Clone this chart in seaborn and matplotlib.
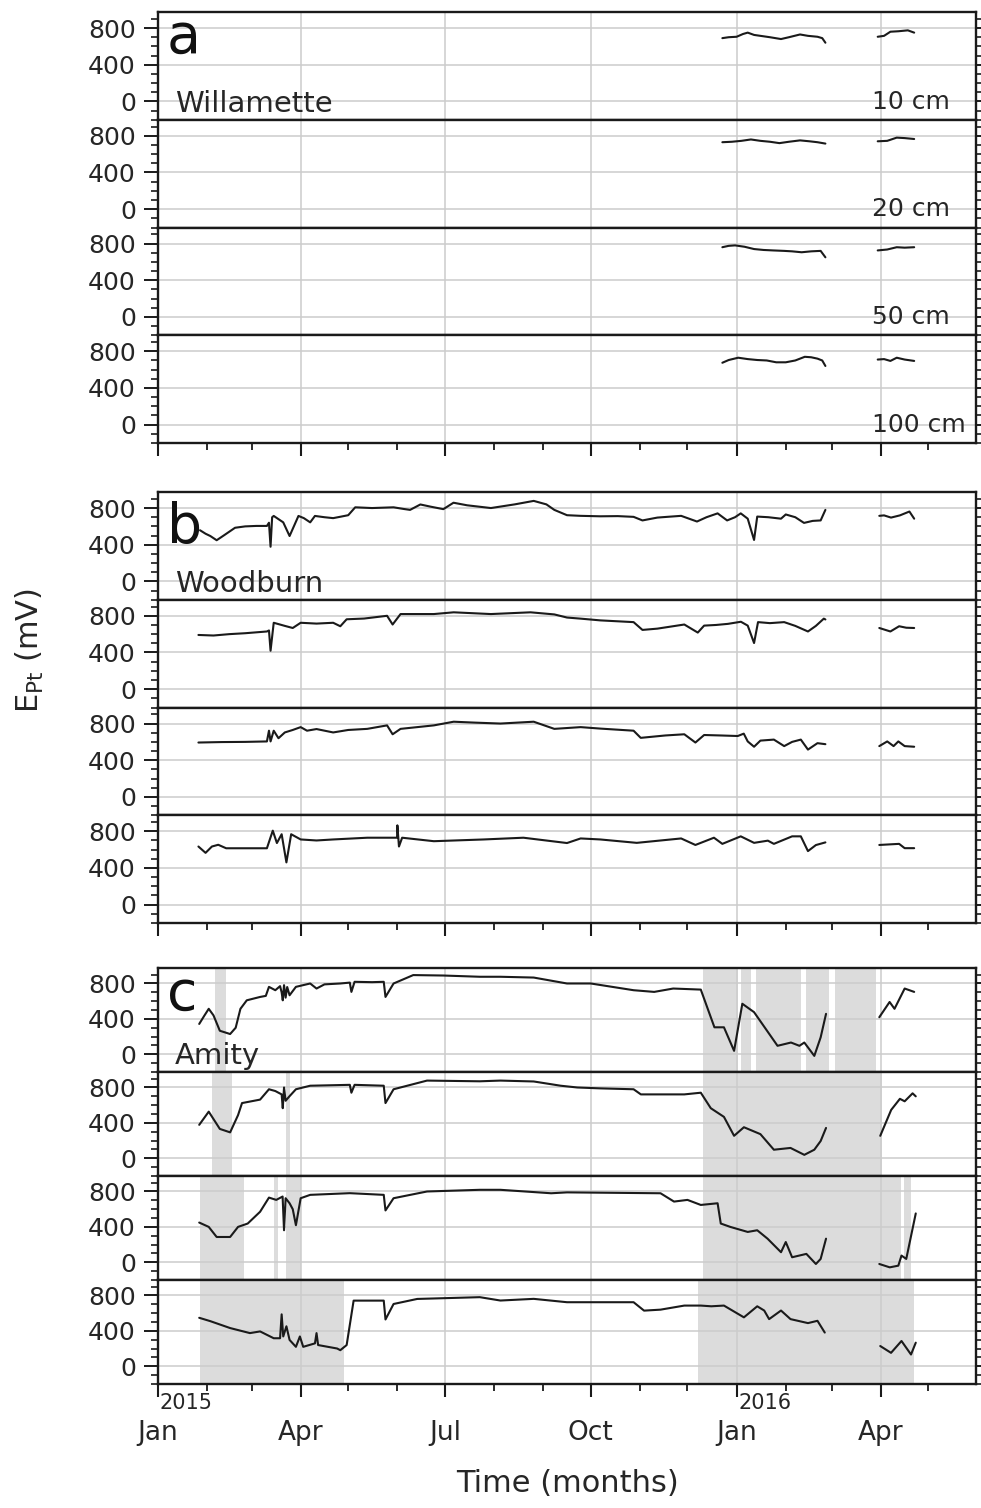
import numpy as np
import pandas as pd
import matplotlib
matplotlib.use("Agg")
import matplotlib.pyplot as plt
import matplotlib.dates as mdates
import matplotlib.ticker as mticker
from matplotlib.transforms import blended_transform_factory
import seaborn as sns

sns.set_style("white")
plt.rcParams["font.family"] = ["DejaVu Sans"]
plt.rcParams["mathtext.default"] = "regular"

# ---------------- data: (days since 2015-01-01, E_Pt in mV) ----------------
START = "2015-01-01"
DATA_GAP_START = 430  # logger gap between early March and early April 2016

will_10 = [(356, 690), (360, 700), (365, 705), (369, 735), (372, 750), (376, 725), (380, 715), (386, 700),
           (393, 680), (398, 700), (405, 730), (410, 715), (416, 705), (419, 690), (421, 640),
           (454, 705), (458, 715), (462, 760), (467, 765), (473, 775), (477, 750)]
will_20 = [(356, 730), (362, 735), (368, 745), (374, 760), (380, 745), (386, 735), (392, 720), (398, 735),
           (405, 750), (411, 740), (416, 730), (421, 715),
           (454, 740), (460, 745), (466, 780), (471, 775), (477, 765)]
will_50 = [(356, 760), (360, 775), (364, 780), (370, 765), (376, 740), (382, 730), (388, 725), (395, 720),
           (400, 715), (406, 705), (412, 715), (418, 720), (421, 650),
           (454, 725), (460, 735), (466, 760), (471, 755), (477, 760)]
will_100 = [(356, 675), (360, 705), (366, 730), (372, 715), (378, 705), (384, 700), (390, 680), (396, 680),
            (402, 700), (408, 740), (412, 735), (416, 720), (419, 700), (421, 640),
            (454, 710), (458, 715), (462, 695), (466, 730), (471, 710), (477, 695)]

wood_10 = [(26.5, 558), (30, 520), (33, 495), (37, 449), (42, 507), (48.6, 585), (55, 600), (62, 605),
           (68.7, 605), (70, 640), (71, 378), (72, 700), (73, 714), (79, 644), (83, 495), (88.6, 714),
           (92, 690), (96, 644), (99, 714), (105, 700), (110.5, 690), (115, 705), (120, 722), (124.4, 808),
           (135, 800), (148.6, 808), (155, 790), (159, 780), (165.5, 839), (172, 815), (180, 788),
           (186.4, 858), (195, 830), (210, 800), (225, 840), (237, 878), (245, 840), (250, 780),
           (258, 722), (266.6, 715), (279, 710), (290, 712), (300, 704), (305.6, 665), (315, 696),
           (322, 705), (330, 715), (340, 653), (346, 700), (353, 742), (359, 665), (364, 700),
           (367.6, 742), (372, 684), (376, 452), (378, 707), (385, 700), (393, 684), (396, 730),
           (402, 700), (407.5, 638), (413, 660), (418, 665), (421, 780),
           (455, 715), (458, 720), (462.4, 696), (468, 720), (474, 762), (477, 684)]
wood_20 = [(25.5, 591), (35, 585), (45, 600), (55, 610), (68.7, 629), (70, 640), (71, 419), (73, 724),
           (80, 690), (85, 667), (90, 724), (100, 715), (110.5, 724), (115, 686), (119, 762), (130, 770),
           (144.5, 800), (148, 705), (153, 819), (174, 819), (186.5, 838), (210, 819), (235, 838),
           (250, 815), (258, 781), (266.6, 769), (279, 750), (300, 731), (305.6, 646), (315, 660),
           (332, 705), (340.5, 617), (344.5, 693), (352, 700), (359.5, 712), (367.7, 735), (372, 693),
           (376, 503), (378.5, 731), (386, 720), (395, 731), (402, 690), (410, 629), (415, 690),
           (420, 769), (421, 760),
           (455, 667), (462, 629), (467.5, 686), (472, 670), (477, 667)]
wood_50 = [(25.5, 593), (40, 598), (55, 600), (68.7, 605), (70, 722), (71, 605), (73, 722), (76, 640),
           (80, 703), (85, 730), (90, 761), (94, 722), (100, 740), (110.5, 703), (120, 730), (132, 742),
           (144.5, 780), (148, 683), (153, 742), (174, 780), (186.5, 820), (200, 810), (216, 800),
           (237, 820), (250, 742), (266.6, 761), (279, 745), (300, 722), (304.5, 644), (320, 670),
           (332, 683), (339, 593), (344.5, 675), (355, 670), (365.7, 664), (369.5, 690), (372, 605),
           (376, 547), (380, 614), (388.5, 625), (395, 554), (400, 600), (405.5, 625), (410, 516),
           (416, 586), (421, 575),
           (455, 554), (460, 605), (464, 554), (467, 605), (471, 554), (477, 547)]
wood_100 = [(25.5, 634), (30, 565), (34, 634), (38, 653), (43, 615), (55, 615), (68.7, 615), (72.4, 807),
            (75, 672), (78, 768), (81, 461), (84, 768), (90, 711), (100, 700), (110.5, 711), (132, 730),
            (150.8, 730), (151, 865), (152, 634), (154, 730), (174, 692), (205.5, 711), (230.5, 730),
            (258, 672), (266.6, 722), (279, 711), (302, 674), (330, 722), (339, 651), (350.7, 730),
            (356, 663), (367.6, 745), (376, 674), (384.7, 698), (388.5, 663), (400, 745), (405.5, 745),
            (410, 584), (415, 650), (421, 679),
            (455, 651), (467.5, 663), (471, 616), (477, 616)]

amity_10 = [(26, 343), (29, 430), (32, 514), (35, 440), (39, 266), (45.5, 229), (49, 300), (52, 514),
            (56, 610), (64.4, 648), (68, 660), (70, 762), (74, 724), (77, 770), (78, 700), (78.7, 610),
            (79.5, 781), (80.5, 640), (81.5, 760), (83, 667), (87, 762), (96, 800), (100, 743), (105, 790),
            (115, 800), (121, 810), (122, 705), (124, 819), (135, 815), (142.4, 819), (143.5, 648),
            (148.6, 800), (161, 895), (180, 890), (203, 876), (216, 876), (237, 867), (258, 800),
            (273, 800), (300, 724), (313, 705), (325, 743), (342.4, 731), (351, 305), (357, 305),
            (363.4, 39), (368.6, 571), (376, 476), (383.4, 286), (390.8, 96), (399.3, 133), (404.6, 96),
            (407.7, 133), (414, -18), (418, 191), (421.4, 457),
            (455, 419), (461.5, 591), (464.6, 514), (471, 743), (477, 705)]
amity_20 = [(26, 378), (32, 527), (39, 332), (45.5, 293), (50.5, 488), (53, 624), (64.4, 663), (70, 780),
            (74, 760), (78, 722), (78.7, 566), (79.5, 800), (80.5, 650), (83, 702), (87, 780), (96, 820),
            (121, 830), (122, 741), (124, 830), (142.4, 820), (143.5, 624), (148.6, 780), (169.7, 878),
            (203, 870), (216, 878), (237, 868), (254, 820), (264.5, 800), (279, 790), (300, 780),
            (304.6, 722), (332, 722), (342.4, 741), (348.7, 566), (357, 468), (363.4, 254), (369.6, 351),
            (380, 273), (388.5, 97), (399, 117), (407.7, 39), (414, 97), (418, 195), (421.4, 343),
            (455.6, 254), (462.5, 547), (468, 672), (471, 644), (476, 734), (478, 700)]
amity_50 = [(26, 449), (32, 400), (37, 286), (45.5, 286), (50.5, 400), (56.6, 438), (64.4, 571), (70, 731),
            (74.6, 705), (78.6, 743), (79.5, 362), (80.5, 724), (83, 667), (85, 600), (87, 419), (90, 724),
            (96, 762), (121, 781), (142.4, 762), (143.5, 586), (148.6, 724), (169.7, 800), (203, 819),
            (216, 819), (248, 780), (258, 790), (317, 780), (325.5, 686), (334, 705), (342.4, 648),
            (353, 667), (355, 438), (361, 400), (372, 343), (378, 362), (384.5, 267), (393, 114),
            (396, 229), (400, 57), (409, 95), (415, -19), (418, 38), (421.4, 267),
            (455, -19), (461.6, -57), (467, -38), (469, 76), (472, 38), (478, 552)]
amity_100 = [(26, 548), (33, 510), (45.5, 432), (58, 375), (64.4, 394), (73, 317), (77, 317), (78, 587),
             (79, 337), (81, 452), (83, 298), (87, 220), (89.5, 337), (91.6, 220), (99, 259), (100, 375),
             (101, 240), (113, 201), (115, 182), (119, 240), (123.4, 742), (134, 742), (142.4, 742),
             (143.5, 529), (148.6, 704), (163.5, 761), (203, 781), (216, 743), (237, 762), (258, 724),
             (300, 724), (306.6, 629), (317, 640), (332, 686), (342.4, 686), (349, 678), (357, 686),
             (369.6, 553), (378, 678), (382.4, 630), (385.5, 533), (393, 630), (399, 533), (410, 488),
             (416, 514), (420.6, 381),
             (455.6, 229), (462.4, 152), (469, 286), (475, 133), (478, 267)]

# grey (saturated / anoxic) periods in Amity, days since 2015-01-01
shade_amity_10 = [(36, 43), (344, 366), (368, 374), (377, 405.5), (409, 423), (427, 453)]
shade_amity_20 = [(34, 46.5), (81, 83), (344, 457)]
shade_amity_50 = [(26.5, 54), (73.3, 76), (81, 90), (344, 468.5), (470.5, 475)]
shade_amity_100 = [(26.5, 117.5), (340.7, 477)]

depth_labels = ["10 cm", "20 cm", "50 cm", "100 cm"]
site_names = ["Willamette", "Woodburn", "Amity"]
panel_letters = ["a", "b", "c"]
y_ticks = [0, 400, 800]
month_ticks = ["Jan", "Apr", "Jul", "Oct", "Jan", "Apr"]
years = ["2015", "2016"]

# ---------------- helpers ----------------
t0 = pd.Timestamp(START)


def to_frame(pairs):
    d = np.array([p[0] for p in pairs], dtype=float)
    v = np.array([p[1] for p in pairs], dtype=float)
    seg = (d > DATA_GAP_START).astype(int)
    return pd.DataFrame({"date": t0 + pd.to_timedelta(d, unit="D"), "val": v, "seg": seg})


W, H = 981, 1508
fig = plt.figure(figsize=(W / 100, H / 100), dpi=100)

X0, X1 = 158, 976
groups = [
    dict(top=12, bottom=443, series=[will_10, will_20, will_50, will_100], shades=[[], [], [], []], base=41),
    dict(top=492, bottom=923, series=[wood_10, wood_20, wood_50, wood_100], shades=[[], [], [], []], base=51),
    dict(top=968, bottom=1384, series=[amity_10, amity_20, amity_50, amity_100],
         shades=[shade_amity_10, shade_amity_20, shade_amity_50, shade_amity_100], base=42),
]

xmin, xmax = t0, pd.Timestamp("2016-05-31")
line_col = "#1a1a1a"
txt_col = "#262626"

for gi, g in enumerate(groups):
    rh = (g["bottom"] - g["top"]) / 4
    for ri in range(4):
        top = g["top"] + ri * rh
        ax = fig.add_axes([X0 / W, 1 - (top + rh) / H, (X1 - X0) / W, rh / H])
        for a0, a1 in g["shades"][ri]:
            ax.axvspan(t0 + pd.Timedelta(days=a0), t0 + pd.Timedelta(days=a1),
                       color="#dcdcdc", lw=0, zorder=0)
        df = to_frame(g["series"][ri])
        sns.lineplot(data=df, x="date", y="val", units="seg", estimator=None, sort=True,
                     color=line_col, linewidth=1.5, ax=ax, legend=False, zorder=3)
        ax.set_xlim(xmin, xmax)
        ax.set_ylim(-200, 975)
        ax.set_xlabel("")
        ax.set_ylabel("")
        ax.set_axisbelow(True)

        ax.xaxis.set_major_locator(mdates.MonthLocator(bymonth=[1, 4, 7, 10]))
        ax.xaxis.set_minor_locator(mdates.MonthLocator())
        ax.xaxis.set_major_formatter(mticker.FixedFormatter(month_ticks))
        ax.yaxis.set_major_locator(mticker.FixedLocator(y_ticks))
        ax.yaxis.set_minor_locator(mticker.MultipleLocator(100))
        ax.grid(True, which="major", color="#cccccc", linewidth=1.1)

        for s in ax.spines.values():
            s.set_linewidth(1.7)
            s.set_color(line_col)
            s.set_zorder(5)

        ax.tick_params(axis="y", which="major", direction="out", length=10, width=1.4,
                       labelsize=18, labelcolor=txt_col, color=line_col, pad=6, left=True, right=True)
        ax.tick_params(axis="y", which="minor", direction="out", length=5, width=1.2,
                       color=line_col, left=True, right=True)
        for t in ax.yaxis.get_major_ticks():
            t.tick2line.set_markersize(5)

        if ri == 3:
            ax.tick_params(axis="x", which="major", direction="out", length=9, width=1.5,
                           labelsize=19, labelcolor=txt_col, color=line_col, pad=17,
                           bottom=True, top=False, labelbottom=(gi == 2))
            ax.tick_params(axis="x", which="minor", direction="out", length=5, width=1.3,
                           color=line_col, bottom=True, top=False)
            if gi == 2:
                tr = blended_transform_factory(ax.transData, ax.transAxes)
                for yr, day in zip(years, [0, 365]):
                    ax.text(mdates.date2num(t0 + pd.Timedelta(days=day + 1)), -19 / rh, yr,
                            transform=tr, ha="left", va="center", fontsize=15, color=txt_col)
        else:
            ax.tick_params(axis="x", which="both", bottom=False, top=False, labelbottom=False)

        if ri == 0:
            ax.text(0.011, 1 - g["base"] / rh, panel_letters[gi], transform=ax.transAxes,
                    fontsize=40, va="baseline", ha="left", color="#111111")
            ax.text(0.021, 7.5 / rh, site_names[gi], transform=ax.transAxes,
                    fontsize=21, va="baseline", ha="left", color=txt_col)
        if gi == 0:
            ax.text(0.8725, 11 / rh, depth_labels[ri], transform=ax.transAxes,
                    fontsize=18, va="baseline", ha="left", color=txt_col)

fig.text(30 / W, 1 - 650 / H, "E$_{Pt}$ (mV)", rotation=90, ha="center", va="center",
         fontsize=22, color=txt_col)
fig.text((X0 + X1) / 2 / W, 1 - 1484 / H, "Time (months)", ha="center", va="center",
         fontsize=22, color=txt_col)

fig.savefig("out.png", dpi=100)
